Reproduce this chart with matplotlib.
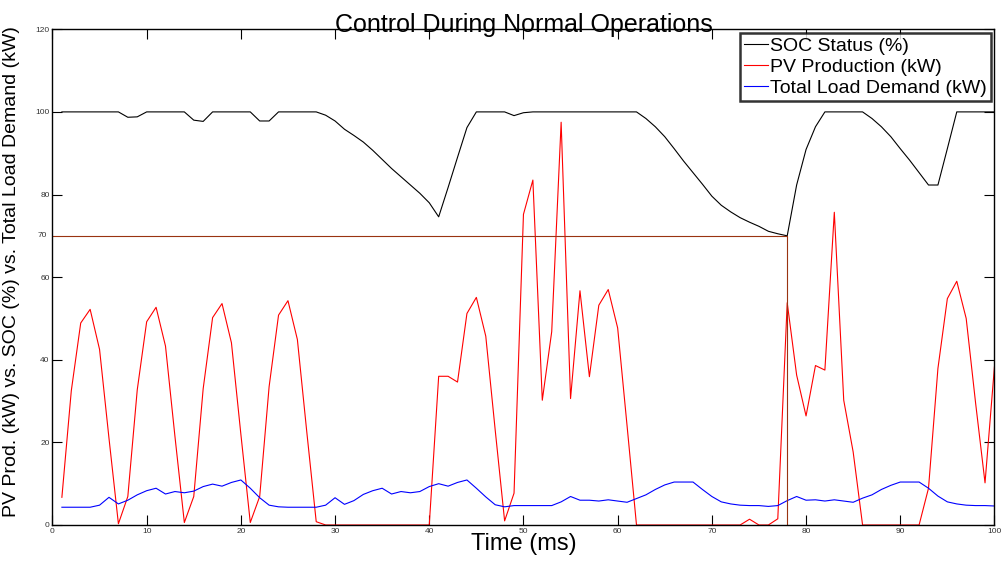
import numpy as np
import matplotlib
matplotlib.use("Agg")
import matplotlib.pyplot as plt
from matplotlib.transforms import blended_transform_factory

plt.rcParams['font.family'] = ['Liberation Sans', 'DejaVu Sans']

# time steps (ms)
t = np.arange(1, 101)

soc = [100, 100, 100, 100, 100, 100, 100, 98.7, 98.8, 100,
       100, 100, 100, 100, 98.0, 97.7, 100, 100, 100, 100,
       100, 97.8, 97.8, 100, 100, 100, 100, 100, 99.2, 97.8,
       95.8, 94.3, 92.7, 90.7, 88.5, 86.3, 84.3, 82.3, 80.3, 78.0,
       74.6, 81.7, 89.0, 96.2, 100, 100, 100, 100, 99.1, 99.8,
       100, 100, 100, 100, 100, 100, 100, 100, 100, 100,
       100, 100, 98.4, 96.4, 94.0, 91.1, 88.1, 85.3, 82.5, 79.6,
       77.4, 75.8, 74.4, 73.3, 72.3, 71.1, 70.5, 70.0, 82.3, 90.9,
       96.4, 100, 100, 100, 100, 100, 98.4, 96.4, 94.0, 91.1,
       88.3, 85.3, 82.3, 82.3, 91.1, 100, 100, 100, 100, 100]

pv = [6.7, 32.5, 48.9, 52.2, 42.5, 21.0, 0.3, 6.9, 32.7, 49.2,
      52.7, 43.3, 21.5, 0.6, 6.9, 33.0, 50.2, 53.6, 44.1, 22.0,
      0.6, 6.9, 33.5, 50.8, 54.3, 44.9, 22.5, 0.8, 0, 0,
      0, 0, 0, 0, 0, 0, 0, 0, 0, 0,
      36.0, 36.0, 34.6, 51.2, 55.1, 45.7, 23.0, 1.0, 7.7, 75.2,
      83.5, 30.2, 46.8, 97.5, 30.6, 56.7, 35.9, 53.2, 57.0, 47.7,
      24.0, 0, 0, 0, 0, 0, 0, 0, 0, 0,
      0, 0, 0, 1.4, 0, 0, 1.5, 53.8, 36.3, 26.4,
      38.6, 37.5, 75.7, 30.2, 17.7, 0, 0, 0, 0, 0,
      0, 0, 8.9, 37.9, 54.8, 59.0, 50.0, 29.5, 10.2, 38.3]

load = [4.3, 4.3, 4.3, 4.3, 4.8, 6.7, 5.1, 6.0, 7.3, 8.3,
        8.9, 7.5, 8.1, 7.8, 8.2, 9.3, 9.9, 9.4, 10.3, 10.9,
        8.9, 6.6, 4.8, 4.4, 4.3, 4.3, 4.3, 4.3, 4.8, 6.6,
        5.0, 5.9, 7.4, 8.3, 8.9, 7.5, 8.1, 7.8, 8.1, 9.3,
        10.0, 9.4, 10.3, 10.9, 8.9, 6.8, 4.9, 4.4, 4.7, 4.7,
        4.7, 4.7, 4.7, 5.6, 6.9, 6.0, 6.0, 5.8, 6.1, 5.8,
        5.5, 6.4, 7.3, 8.6, 9.7, 10.4, 10.4, 10.4, 8.6, 6.9,
        5.6, 5.1, 4.8, 4.7, 4.7, 4.5, 4.7, 5.9, 6.9, 6.0,
        6.1, 5.8, 6.1, 5.8, 5.5, 6.5, 7.3, 8.6, 9.6, 10.4,
        10.4, 10.4, 8.9, 7.0, 5.6, 5.1, 4.8, 4.7, 4.7, 4.6]

# SOC threshold marker
thr_soc = 70
thr_t = 78

fig = plt.figure(figsize=(10.05, 5.63), dpi=100)
ax = fig.add_axes([0.0522, 0.0675, 0.9373, 0.8805])

ax.plot(t, soc, color='black', lw=0.8, label='SOC Status (%)')
ax.plot(t, pv, color='red', lw=0.8, label='PV Production (kW)')
ax.plot(t, load, color='blue', lw=0.8, label='Total Load Demand (kW)')
ax.plot([0, thr_t, thr_t], [thr_soc, thr_soc, 0], color='#993311', lw=0.8)

ax.set_xlim(0, 100)
ax.set_ylim(0, 120)
ax.set_xticks(np.arange(0, 101, 10))
ax.set_yticks([0, 20, 40, 60, 80, 100, 120])
ax.tick_params(direction='in', length=7, width=0.8, labelsize=6,
               top=True, right=True, labelcolor='#333333', pad=2)
trans = blended_transform_factory(ax.transAxes, ax.transData)
ax.text(-0.006, thr_soc, '70', transform=trans, ha='right', va='center',
        fontsize=6, color='#333333')
for s in ax.spines.values():
    s.set_linewidth(1.0)

ax.set_title('Control During Normal Operations', fontsize=18, pad=-2)
ax.set_xlabel('Time (ms)', fontsize=17, labelpad=-1)
ax.set_ylabel('PV Prod. (kW) vs. SOC (%) vs. Total Load Demand (kW)',
              fontsize=14)
ax.yaxis.set_label_coords(-0.034, 0.512)

leg = ax.legend(loc='upper right', fontsize=14, frameon=True, fancybox=False,
                edgecolor='black', borderpad=0.2, labelspacing=0.18,
                handlelength=1.2, handletextpad=0.12, borderaxespad=0.2)
leg.get_frame().set_linewidth(1.8)

fig.savefig('out.png', dpi=100)
